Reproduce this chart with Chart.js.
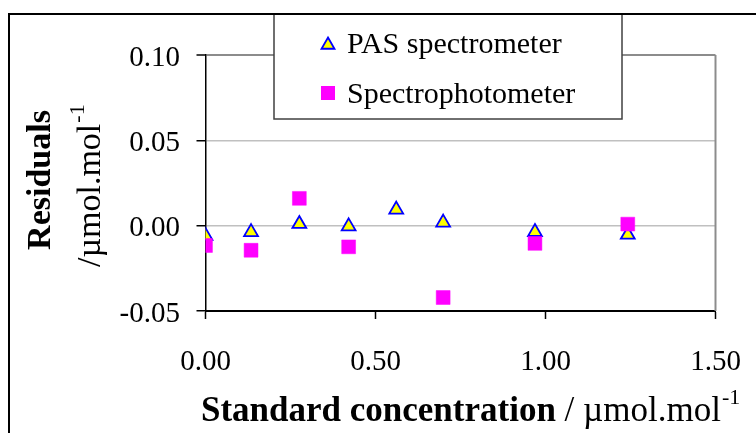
<!DOCTYPE html>
<html><head><meta charset="utf-8">
<script src="https://cdn.jsdelivr.net/npm/chart.js@4.4.1/dist/chart.umd.min.js"></script>
<style>html,body{margin:0;padding:0;background:#fff;overflow:hidden}#wrap{width:756px;height:433px}</style>
</head><body><div id="wrap"><canvas id="c" width="756" height="433"></canvas></div>
<script>
// ---- data ----
const pasX  = [0, 0.134, 0.276, 0.421, 0.561, 0.699, 0.969, 1.242];
const pasY  = [-0.006, -0.0038, 0.001, -0.0004, 0.0094, 0.0018, -0.0037, -0.0053];
const specX = [0, 0.134, 0.276, 0.421, 0.699, 0.969, 1.242];
const specY = [-0.0116, -0.0144, 0.016, -0.0124, -0.0421, -0.0104, 0.0009];
const xTicks = [0, 0.5, 1.0, 1.5];
const yTicks = [-0.05, 0, 0.05, 0.10];
const seriesNames = ['PAS spectrometer', 'Spectrophotometer'];
const xTitleBold = 'Standard concentration';
const xTitleRest = ' / \u00b5mol.mol';
const yTitleBold = 'Residuals';
const yTitleRest = '/\u00b5mol.mol';
const unitSup = '-1';

const SERIF = "'Liberation Serif','Times New Roman',serif";
const pts = (xs, ys) => xs.map((x, i) => ({x, y: ys[i]}));

function triPath(ctx, x, y, r) {
  ctx.beginPath();
  for (let k = 0; k < 3; k++) {
    const a = k * 2 * Math.PI / 3;
    const px = x + Math.sin(a) * r, py = y - Math.cos(a) * r;
    if (k === 0) ctx.moveTo(px, py); else ctx.lineTo(px, py);
  }
  ctx.closePath();
}

const decor = {
  id: 'decor',
  beforeDraw(chart) {
    const ctx = chart.ctx;
    ctx.save();
    ctx.fillStyle = '#fff';
    ctx.fillRect(0, 0, chart.width, chart.height);
    ctx.restore();
  },
  beforeDatasetsDraw(chart) {
    const {ctx, chartArea: a} = chart;
    ctx.save();
    ctx.strokeStyle = '#8c8c8c';
    ctx.lineWidth = 2;
    ctx.beginPath();
    ctx.moveTo(a.right, a.top);
    ctx.lineTo(a.right, a.bottom);
    ctx.stroke();
    ctx.restore();
  },
  afterDraw(chart) {
    const ctx = chart.ctx;
    ctx.save();
    // outer frame (cropped chart border)
    ctx.strokeStyle = '#000';
    ctx.lineWidth = 2;
    ctx.beginPath();
    ctx.moveTo(9, 433); ctx.lineTo(9, 14); ctx.lineTo(756, 14);
    ctx.stroke();

    // legend box
    const lx = 274, ly = 14, lw = 348, lh = 105;
    ctx.fillStyle = '#fff';
    ctx.fillRect(lx, ly, lw, lh);
    ctx.strokeStyle = '#404040';
    ctx.lineWidth = 1.5;
    ctx.strokeRect(lx, ly, lw, lh);
    ctx.strokeStyle = '#000';
    ctx.lineWidth = 2;
    ctx.beginPath(); ctx.moveTo(lx - 1, 14); ctx.lineTo(lx + lw + 1, 14); ctx.stroke();

    const ds = chart.data.datasets;
    // triangle marker
    triPath(ctx, 328, 45, 7.5);
    ctx.fillStyle = ds[0].pointBackgroundColor;
    ctx.fill();
    ctx.strokeStyle = ds[0].pointBorderColor;
    ctx.lineWidth = 1.8;
    ctx.stroke();
    // square marker
    ctx.fillStyle = ds[1].pointBackgroundColor;
    ctx.fillRect(321, 86, 14, 14);

    ctx.fillStyle = '#000';
    ctx.font = '30px ' + SERIF;
    ctx.textBaseline = 'alphabetic';
    ctx.textAlign = 'left';
    ctx.fillText(ds[0].label, 347, 53);
    ctx.fillText(ds[1].label, 347, 103);

    // x axis title
    let x = 201;
    const xb = 421;
    ctx.font = 'bold 35px ' + SERIF;
    ctx.fillText(xTitleBold, x, xb);
    x += ctx.measureText(xTitleBold).width;
    ctx.font = '35px ' + SERIF;
    ctx.fillText(xTitleRest, x, xb);
    x += ctx.measureText(xTitleRest).width;
    ctx.font = '22px ' + SERIF;
    ctx.fillText(unitSup, x + 1, xb - 17);

    // y axis title (rotated)
    ctx.translate(50, 180);
    ctx.rotate(-Math.PI / 2);
    ctx.font = 'bold 34px ' + SERIF;
    ctx.textAlign = 'center';
    ctx.fillText(yTitleBold, 0, 0);
    ctx.restore();

    ctx.save();
    ctx.translate(100, 267);
    ctx.rotate(-Math.PI / 2);
    ctx.textAlign = 'left';
    ctx.font = '34px ' + SERIF;
    ctx.fillText(yTitleRest, 0, 0);
    const w = ctx.measureText(yTitleRest).width;
    ctx.font = '22px ' + SERIF;
    ctx.fillText(unitSup, w + 1, -16);
    ctx.restore();
  }
};

new Chart(document.getElementById('c'), {
  type: 'scatter',
  data: {
    datasets: [
      {
        label: seriesNames[0],
        data: pts(pasX, pasY),
        pointStyle: 'triangle',
        pointRadius: 8,
        pointHoverRadius: 8,
        pointBackgroundColor: '#ffff00',
        pointBorderColor: '#0000ff',
        pointBorderWidth: 1.8,
        order: 2
      },
      {
        label: seriesNames[1],
        data: pts(specX, specY),
        pointStyle: 'rect',
        pointRadius: 9.8,
        pointHoverRadius: 9.8,
        pointBackgroundColor: '#ff00ff',
        pointBorderColor: '#ff00ff',
        pointBorderWidth: 0.5,
        order: 1
      }
    ]
  },
  options: {
    responsive: false,
    animation: false,
    devicePixelRatio: 1,
    layout: {padding: {left: 0, right: 40.5, top: 55, bottom: 0}},
    plugins: {legend: {display: false}, tooltip: {enabled: false}},
    scales: {
      x: {
        type: 'linear',
        min: 0, max: 1.5,
        afterBuildTicks: s => { s.ticks = xTicks.map(v => ({value: v})); },
        afterFit: s => { s.height = 122; s.paddingLeft = 0; s.paddingRight = 0; },
        border: {color: '#000', width: 2},
        grid: {drawOnChartArea: false, drawTicks: true, tickLength: 8, tickColor: '#000', tickWidth: 1.5},
        ticks: {
          padding: 26,
          color: '#000',
          font: {family: SERIF, size: 29},
          maxRotation: 0,
          callback: v => Number(v).toFixed(2)
        }
      },
      y: {
        type: 'linear',
        min: -0.05, max: 0.10,
        afterBuildTicks: s => { s.ticks = yTicks.map(v => ({value: v})); },
        afterFit: s => { s.width = 205.5; s.paddingTop = 0; s.paddingBottom = 0; },
        border: {color: '#000', width: 1.5},
        grid: {
          drawTicks: true, tickLength: 9, tickColor: '#000', tickWidth: 1.5,
          color: c => (c.tick && Math.abs(c.tick.value - 0.10) < 1e-9) ? '#8c8c8c' : '#c0c0c0',
          lineWidth: c => (c.tick && Math.abs(c.tick.value - 0.10) < 1e-9) ? 2 : 1.5
        },
        ticks: {
          padding: 16.5,
          labelOffset: 3,
          color: '#000',
          font: {family: SERIF, size: 29},
          callback: v => Number(v).toFixed(2)
        }
      }
    }
  },
  plugins: [decor]
});
</script>
</body></html>
